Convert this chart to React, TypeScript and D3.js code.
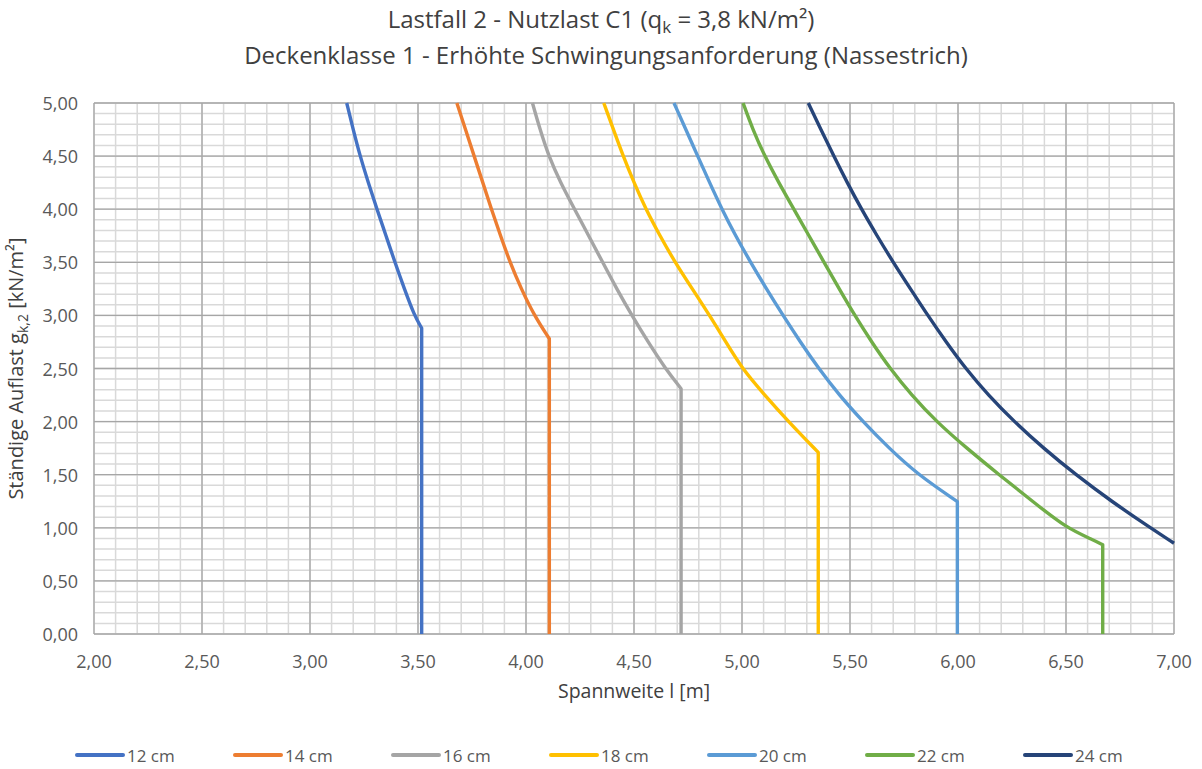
import React from "react";
import * as d3 from "d3";

// Slab thickness series: [span l in m, dead load g_k,2 in kN/m²]
const series12: [number, number][] = [
  [3.17, 5.0], [3.2, 4.75], [3.232, 4.5], [3.27, 4.25], [3.31, 4.0], [3.352, 3.75],
  [3.393, 3.5], [3.437, 3.25], [3.483, 3.0], [3.517, 2.88], [3.517, 0],
];
const series14: [number, number][] = [
  [3.68, 5.0], [3.72, 4.75], [3.76, 4.5], [3.8, 4.25], [3.84, 4.0], [3.882, 3.75],
  [3.926, 3.5], [3.978, 3.25], [4.038, 3.0], [4.108, 2.78], [4.108, 0],
];
const series16: [number, number][] = [
  [4.03, 5.0], [4.065, 4.75], [4.105, 4.5], [4.16, 4.25], [4.225, 4.0], [4.29, 3.75],
  [4.355, 3.5], [4.42, 3.25], [4.49, 3.0], [4.565, 2.75], [4.645, 2.5], [4.718, 2.31],
  [4.718, 0],
];
const series18: [number, number][] = [
  [4.36, 5.0], [4.405, 4.75], [4.45, 4.5], [4.5, 4.25], [4.555, 4.0], [4.62, 3.75],
  [4.69, 3.5], [4.77, 3.25], [4.85, 3.0], [4.925, 2.75], [5.0, 2.5], [5.105, 2.25],
  [5.215, 2.0], [5.353, 1.71], [5.353, 0],
];
const series20: [number, number][] = [
  [4.685, 5.0], [4.74, 4.75], [4.795, 4.5], [4.85, 4.25], [4.907, 4.0], [4.97, 3.75],
  [5.04, 3.5], [5.113, 3.25], [5.19, 3.0], [5.27, 2.75], [5.355, 2.5], [5.45, 2.25],
  [5.56, 2.0], [5.68, 1.75], [5.815, 1.5], [5.997, 1.247], [5.997, 0],
];
const series22: [number, number][] = [
  [5.005, 5.0], [5.05, 4.75], [5.105, 4.5], [5.17, 4.25], [5.24, 4.0], [5.31, 3.75],
  [5.38, 3.5], [5.45, 3.25], [5.522, 3.0], [5.6, 2.75], [5.685, 2.5], [5.785, 2.25],
  [5.9, 2.0], [6.04, 1.75], [6.19, 1.5], [6.345, 1.25], [6.5, 1.0], [6.627, 0.886],
  [6.67, 0.84], [6.67, 0],
];
const series24: [number, number][] = [
  [5.307, 5.0], [5.365, 4.75], [5.425, 4.5], [5.487, 4.25], [5.553, 4.0], [5.625, 3.75],
  [5.7, 3.5], [5.78, 3.25], [5.86, 3.0], [5.945, 2.75], [6.035, 2.5], [6.14, 2.25],
  [6.26, 2.0], [6.395, 1.75], [6.545, 1.5], [6.71, 1.25], [6.89, 1.0], [7.0, 0.855],
];

const seriesNames = ["12 cm", "14 cm", "16 cm", "18 cm", "20 cm", "22 cm", "24 cm"];
const seriesData = [series12, series14, series16, series18, series20, series22, series24];
const seriesColors = ["#4472C4", "#ED7D31", "#A5A5A5", "#FFC000", "#5B9BD5", "#70AD47", "#264478"];

const xTicks = [2.0, 2.5, 3.0, 3.5, 4.0, 4.5, 5.0, 5.5, 6.0, 6.5, 7.0];
const yTicks = [0.0, 0.5, 1.0, 1.5, 2.0, 2.5, 3.0, 3.5, 4.0, 4.5, 5.0];

const W = 1202;
const H = 769;
const M = { left: 94, right: 1174, top: 103, bottom: 634 };
const FONT = "'Open Sans', sans-serif";

export default function App() {
  const x = d3.scaleLinear().domain([2, 7]).range([M.left, M.right]);
  const y = d3.scaleLinear().domain([0, 5]).range([M.bottom, M.top]);
  const minorX = d3.range(20, 71).map((v) => v / 10);
  const minorY = d3.range(0, 51).map((v) => v / 10);
  const smooth = d3
    .line<[number, number]>()
    .x((d) => x(d[0]))
    .y((d) => y(d[1]))
    .curve(d3.curveBasis);
  // curved part is smoothed, the final drop to g = 0 stays a straight vertical
  const seriesPath = (s: [number, number][]) => {
    const curved = s.filter((d) => d[1] > 0);
    const last = s[s.length - 1];
    const tail = last[1] === 0 ? `L${x(last[0])},${y(0)}` : "";
    return (smooth(curved) || "") + tail;
  };
  const fmt = (v: number) => v.toFixed(2).replace(".", ",");
  const legendX0 = 77;
  const legendStep = 158;

  return (
    <svg
      width={W}
      height={H}
      style={{ position: "absolute", left: 0, top: 0, background: "#fff" }}
      fontFamily={FONT}
    >
      <rect x={0} y={0} width={W} height={H} fill="#fff" />
      {/* minor grid */}
      <g stroke="#d9d9d9" strokeWidth={1.5}>
        {minorX.map((v) => (
          <line key={"mx" + v} x1={x(v)} x2={x(v)} y1={M.top} y2={M.bottom} />
        ))}
        {minorY.map((v) => (
          <line key={"my" + v} x1={M.left} x2={M.right} y1={y(v)} y2={y(v)} />
        ))}
      </g>
      {/* major grid */}
      <g stroke="#a6a6a6" strokeWidth={1.3}>
        {xTicks.map((v) => (
          <line key={"Mx" + v} x1={x(v)} x2={x(v)} y1={M.top} y2={M.bottom} />
        ))}
        {yTicks.map((v) => (
          <line key={"My" + v} x1={M.left} x2={M.right} y1={y(v)} y2={y(v)} />
        ))}
      </g>
      {/* series */}
      <g fill="none" strokeWidth={3.4} strokeLinejoin="round">
        {seriesData.map((s, i) => (
          <path key={seriesNames[i]} d={seriesPath(s)} stroke={seriesColors[i]} />
        ))}
      </g>
      {/* tick labels */}
      <g fill="#595959" fontSize={18}>
        {yTicks.map((v) => (
          <text key={"yl" + v} x={78} y={y(v)} textAnchor="end" dominantBaseline="central">
            {fmt(v)}
          </text>
        ))}
        {xTicks.map((v) => (
          <text key={"xl" + v} x={x(v)} y={668} textAnchor="middle">
            {fmt(v)}
          </text>
        ))}
      </g>
      {/* axis titles */}
      <text x={634} y={698} textAnchor="middle" fontSize={19.5} fill="#404040">
        Spannweite l [m]
      </text>
      <text
        transform={`translate(23, ${(M.top + M.bottom) / 2}) rotate(-90)`}
        textAnchor="middle"
        fontSize={20}
        fill="#404040"
      >
        Ständige Auflast g
        <tspan fontSize={14} dy={5}>k,2</tspan>
        <tspan dy={-5}> [kN/m²]</tspan>
      </text>
      {/* title */}
      <g fill="#404040" fontSize={24} textAnchor="middle">
        <text x={601} y={28}>
          Lastfall 2 - Nutzlast C1 (q
          <tspan fontSize={17} dy={5}>k</tspan>
          <tspan dy={-5}> = 3,8 kN/m²)</tspan>
        </text>
        <text x={606} y={64}>
          Deckenklasse 1 - Erhöhte Schwingungsanforderung (Nassestrich)
        </text>
      </g>
      {/* legend */}
      <g fontSize={17} fill="#595959">
        {seriesNames.map((n, i) => {
          const lx = legendX0 + i * legendStep;
          return (
            <g key={"lg" + n}>
              <line
                x1={lx}
                x2={lx + 46}
                y1={755}
                y2={755}
                stroke={seriesColors[i]}
                strokeWidth={4}
                strokeLinecap="round"
              />
              <text x={lx + 50} y={755} dominantBaseline="central">
                {n}
              </text>
            </g>
          );
        })}
      </g>
    </svg>
  );
}
